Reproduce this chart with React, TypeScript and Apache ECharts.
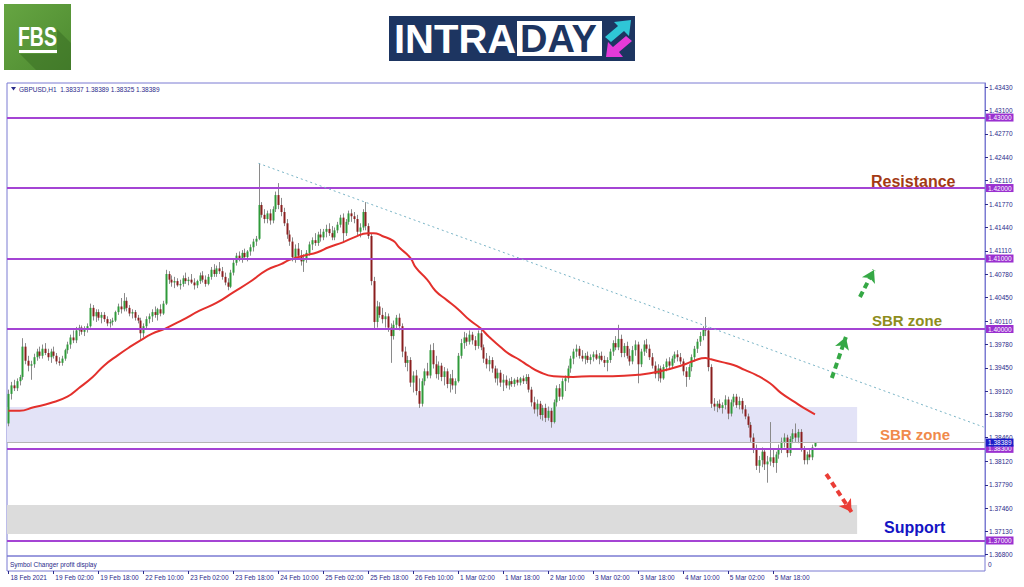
import React, { useEffect, useRef } from "react";
import * as echarts from "echarts";

// ---------- data ----------
const N_SLOTS = 348; // bar slots across the chart (including empty right shift)
const BARS_PER_LABEL = 16;
const timeLabels = [
  "18 Feb 2021", "19 Feb 02:00", "19 Feb 18:00", "22 Feb 10:00", "23 Feb 02:00", "23 Feb 18:00",
  "24 Feb 10:00", "25 Feb 02:00", "25 Feb 18:00", "26 Feb 10:00", "1 Mar 02:00", "1 Mar 18:00",
  "2 Mar 10:00", "3 Mar 02:00", "3 Mar 18:00", "4 Mar 10:00", "5 Mar 02:00", "5 Mar 18:00",
];
const priceTicks = [
  1.368, 1.3713, 1.3746, 1.3779, 1.3812, 1.3846, 1.3879, 1.3912, 1.3945, 1.3978, 1.4011,
  1.4045, 1.4078, 1.4111, 1.4144, 1.4177, 1.4211, 1.4244, 1.4277, 1.431, 1.4343,
];
const levels = [1.43, 1.42, 1.41, 1.4, 1.383, 1.37];
const bidPrice = 1.38389;
const headerText = "GBPUSD,H1  1.38337 1.38389 1.38325 1.38389";

// candles: [open, high, low, close] in price x 10000
const candles: number[][] = [
  [13866,13914,13862,13908],[13908,13925,13900,13920],[13920,13928,13912,13916],[13916,13930,13912,13926],
  [13926,13935,13920,13932],[13932,13987,13928,13975],[13975,13980,13950,13955],[13955,13962,13940,13948],
  [13948,13955,13928,13950],[13950,13965,13945,13960],[13960,13972,13955,13968],[13968,13975,13958,13962],
  [13962,13978,13958,13972],[13972,13980,13963,13966],[13966,13972,13955,13960],[13960,13972,13952,13968],
  [13968,13975,13958,13962],[13962,13966,13950,13954],[13954,13960,13948,13952],[13952,13962,13948,13958],
  [13958,13972,13955,13970],[13970,13982,13965,13978],[13978,13992,13972,13988],[13988,13998,13980,13984],
  [13984,14003,13980,13998],[13998,14006,13990,14002],[14002,14005,13992,13996],[13996,14004,13990,14000],
  [14000,14008,13995,14004],[14004,14036,14002,14030],[14030,14034,14012,14018],[14018,14028,14010,14024],
  [14024,14028,14012,14016],[14016,14024,14008,14020],[14020,14024,14010,14014],[14014,14018,14004,14008],
  [14008,14014,14002,14010],[14010,14016,14005,14012],[14012,14026,14010,14024],[14024,14036,14020,14032],
  [14032,14044,14022,14028],[14028,14051,14025,14040],[14040,14045,14025,14030],[14030,14034,14018,14022],
  [14022,14028,14015,14024],[14024,14027,14012,14016],[14016,14020,14008,14012],[14012,14016,13984,13994],
  [13994,14008,13988,14004],[14004,14018,14000,14014],[14014,14022,14008,14018],[14018,14028,14010,14024],
  [14024,14032,14016,14020],[14020,14030,14012,14028],[14028,14035,14018,14022],[14022,14040,14020,14036],
  [14036,14084,14034,14078],[14078,14082,14064,14070],[14070,14076,14060,14066],[14066,14074,14058,14068],
  [14068,14072,14060,14062],[14062,14070,14056,14064],[14064,14076,14060,14072],[14072,14080,14064,14068],
  [14068,14074,14062,14070],[14070,14078,14064,14066],[14066,14072,14056,14062],[14062,14070,14058,14068],
  [14068,14080,14064,14076],[14076,14082,14066,14070],[14070,14076,14060,14064],[14064,14078,14062,14074],
  [14074,14088,14070,14084],[14084,14092,14074,14078],[14078,14090,14074,14086],[14086,14095,14078,14082],
  [14082,14088,14070,14074],[14074,14080,14062,14066],[14066,14072,14055,14060],[14060,14084,14058,14080],
  [14080,14098,14076,14094],[14094,14108,14090,14104],[14104,14110,14096,14100],[14100,14112,14094,14108],
  [14108,14114,14098,14102],[14102,14112,14096,14110],[14110,14120,14104,14116],[14116,14128,14110,14124],
  [14124,14132,14118,14128],[14128,14235,14126,14176],[14176,14180,14158,14162],[14162,14170,14150,14156],
  [14156,14168,14150,14164],[14164,14170,14148,14154],[14154,14174,14150,14170],[14170,14195,14166,14190],
  [14190,14207,14170,14176],[14176,14186,14160,14166],[14166,14172,14146,14150],[14150,14156,14128,14134],
  [14134,14140,14118,14124],[14124,14130,14096,14102],[14102,14120,14094,14114],[14114,14122,14098,14104],
  [14104,14112,14090,14096],[14096,14106,14081,14100],[14100,14112,14094,14108],[14108,14124,14104,14120],
  [14120,14130,14112,14126],[14126,14136,14118,14122],[14122,14138,14118,14134],[14134,14142,14124,14130],
  [14130,14142,14126,14138],[14138,14148,14130,14142],[14142,14150,14132,14136],[14136,14146,14126,14130],
  [14130,14144,14126,14140],[14140,14152,14136,14148],[14148,14162,14144,14158],[14158,14164,14122,14136],
  [14136,14156,14132,14152],[14152,14168,14148,14164],[14164,14170,14152,14160],[14160,14166,14150,14156],
  [14156,14162,14132,14138],[14138,14150,14130,14144],[14144,14170,14140,14166],[14166,14180,14140,14146],
  [14146,14150,14128,14132],[14132,14136,14062,14068],[14068,14074,14000,14010],[14010,14040,14002,14032],
  [14032,14038,14016,14020],[14020,14030,14008,14014],[14014,14024,14002,14018],[14018,14022,13996,14002],
  [14002,14008,13952,13990],[13990,14012,13985,14006],[14006,14020,14000,14016],[14016,14022,13998,14004],
  [14004,14008,13960,13968],[13968,13975,13946,13952],[13952,13962,13940,13956],[13956,13960,13918,13924],
  [13924,13940,13910,13934],[13934,13942,13906,13912],[13912,13930,13888,13894],[13894,13930,13890,13926],
  [13926,13944,13920,13940],[13940,13952,13930,13934],[13934,13978,13930,13970],[13970,13980,13944,13950],
  [13950,13962,13930,13936],[13936,13954,13928,13948],[13948,13952,13926,13932],[13932,13946,13920,13940],
  [13940,13944,13916,13922],[13922,13936,13910,13930],[13930,13942,13914,13920],[13920,13930,13908,13926],
  [13926,13966,13924,13962],[13962,13986,13958,13980],[13980,13996,13972,13988],[13988,13994,13976,13982],
  [13982,13998,13978,13992],[13992,13996,13978,13984],[13984,13990,13970,13976],[13976,13998,13972,13994],
  [13994,14000,13970,13974],[13974,13978,13952,13958],[13958,13966,13944,13950],[13950,13962,13940,13956],
  [13956,13960,13938,13944],[13944,13948,13924,13930],[13930,13944,13920,13938],[13938,13942,13918,13924],
  [13924,13936,13912,13928],[13928,13934,13916,13920],[13920,13930,13914,13926],[13926,13932,13918,13922],
  [13922,13930,13918,13928],[13928,13932,13920,13924],[13924,13932,13920,13930],[13930,13934,13922,13926],
  [13926,13936,13922,13932],[13932,13936,13910,13914],[13914,13918,13890,13896],[13896,13904,13880,13886],
  [13886,13900,13876,13894],[13894,13898,13872,13878],[13878,13892,13870,13888],[13888,13894,13868,13874],
  [13874,13890,13870,13884],[13884,13888,13860,13868],[13868,13900,13866,13896],[13896,13920,13890,13916],
  [13916,13922,13898,13904],[13904,13930,13900,13926],[13926,13934,13912,13930],[13930,13948,13924,13944],
  [13944,13962,13938,13958],[13958,13972,13950,13968],[13968,13978,13960,13972],[13972,13976,13958,13962],
  [13962,13970,13954,13958],[13958,13966,13950,13962],[13962,13968,13952,13956],[13956,13964,13950,13960],
  [13960,13968,13954,13964],[13964,13970,13956,13958],[13958,13966,13950,13962],[13962,13968,13954,13956],
  [13956,13962,13946,13952],[13952,13960,13940,13956],[13956,13972,13952,13968],[13968,13984,13962,13980],
  [13980,13990,13970,13974],[13974,14006,13970,13986],[13986,13992,13960,13966],[13966,13980,13960,13976],
  [13976,13982,13958,13962],[13962,13972,13948,13954],[13954,13976,13950,13970],[13970,13984,13962,13978],
  [13978,13982,13923,13950],[13950,13972,13946,13968],[13968,13984,13962,13978],[13978,13986,13966,13972],
  [13972,13978,13956,13960],[13960,13966,13944,13948],[13948,13954,13930,13936],[13936,13950,13926,13944],
  [13944,13948,13924,13930],[13930,13950,13928,13946],[13946,13958,13940,13954],[13954,13960,13944,13948],
  [13948,13962,13944,13958],[13958,13968,13952,13964],[13964,13970,13954,13960],[13960,13966,13950,13954],
  [13954,13958,13934,13940],[13940,13946,13918,13932],[13932,13950,13928,13946],[13946,13964,13940,13960],
  [13960,13976,13954,13972],[13972,13986,13966,13982],[13982,13996,13976,13990],[13990,14004,13984,14000],
  [14000,14017,13990,13998],[13998,14002,13940,13946],[13946,13950,13888,13894],[13894,13902,13884,13890],
  [13890,13898,13882,13894],[13894,13900,13886,13888],[13888,13896,13880,13892],[13892,13906,13886,13900],
  [13900,13904,13872,13880],[13880,13900,13876,13896],[13896,13908,13890,13904],[13904,13908,13888,13892],
  [13892,13904,13886,13898],[13898,13902,13880,13886],[13886,13892,13872,13876],[13876,13880,13860,13864],
  [13864,13868,13840,13846],[13846,13852,13824,13830],[13830,13836,13800,13806],[13806,13820,13796,13814],
  [13814,13832,13804,13826],[13826,13830,13800,13808],[13808,13820,13782,13812],[13812,13868,13806,13818],
  [13818,13830,13804,13810],[13810,13826,13796,13822],[13822,13836,13816,13830],[13830,13846,13824,13840],
  [13840,13852,13832,13846],[13846,13850,13818,13824],[13824,13848,13820,13844],[13844,13858,13838,13852],
  [13852,13866,13840,13846],[13846,13858,13838,13854],[13854,13858,13826,13830],[13830,13834,13808,13814],
  [13814,13826,13808,13822],[13822,13830,13814,13818],[13818,13836,13814,13832],[13833.7,13838.9,13832.5,13838.9],
];

// moving average: [bar index, price]
const maSamples: number[][] = [
  [0,1.3884],[4,1.3884],[9,1.3889],[15,1.3895],[21,1.3904],[25,1.3916],[30,1.3932],[34,1.3948],
  [39,1.3963],[43,1.3974],[47,1.3984],[51,1.3993],[56,1.4001],[62,1.4013],[68,1.4026],[74,1.4037],
  [80,1.4052],[86,1.4067],[92,1.4084],[97,1.4092],[100,1.4098],[105,1.4104],[110,1.4109],[114,1.4116],
  [119,1.4123],[123,1.413],[128,1.4136],[130,1.4136],[133,1.4132],[137,1.4125],[139,1.4116],[143,1.4101],
  [145,1.4087],[149,1.407],[152,1.4054],[156,1.4041],[160,1.4028],[164,1.4013],[168,1.4001],[171,1.3989],
  [175,1.3975],[178,1.3965],[182,1.3956],[185,1.3948],[189,1.3939],[194,1.3933],[201,1.3932],[207,1.3933],
  [215,1.3933],[224,1.3935],[232,1.394],[240,1.3949],[244,1.3955],[248,1.3959],[250,1.3957],[254,1.3953],
  [258,1.3949],[262,1.3942],[266,1.3935],[271,1.3923],[275,1.3909],[280,1.3896],[283,1.3888],[287,1.3879],
];

// zones: [end bar, top price, bottom price]
const zones: number[][] = [
  [302, 1.38894, 1.38383],
  [302, 1.37504, 1.37092],
];
const zoneColors = ["#e3e3f7", "#dcdcdc"];

// trend line from the 23 Feb high
const trendLine = { from: [89, 1.4235], to: [347, 1.3861] };

// dashed arrows: [startBar, startPrice, endBar, endPrice]
const arrowsGreen: number[][] = [
  [293, 1.39305, 298, 1.39887],
  [303, 1.40454, 308, 1.40837],
];
const arrowRed: number[] = [291, 1.37943, 300, 1.37404];

const annotations = [
  { text: "Resistance", x: 871, y: 181, color: "#a33a14", size: 16 },
  { text: "SBR zone", x: 872, y: 320, color: "#8d8d1c", size: 15 },
  { text: "SBR zone", x: 880, y: 434, color: "#f08a4b", size: 15 },
  { text: "Support", x: 884, y: 527, color: "#1414c4", size: 16 },
];

// ---------- chart ----------
const FRAME = "#7b7bd2";
const NAVY = "#2a2a8a";
const FONT = "Liberation Sans, Arial, sans-serif";

function buildOption() {
  const slots = Array.from({ length: N_SLOTS }, (_, i) => String(i));
  const candleData = candles.map((d, i) => [i, d[0] / 1e4, d[1] / 1e4, d[2] / 1e4, d[3] / 1e4]);
  const arrowItem = (a: number[], color: string) => [
    { coord: [a[0], a[1]], symbol: "none", lineStyle: { color, width: 4, type: [6, 4] } },
    { coord: [a[2], a[3]], symbol: "arrow", symbolSize: [11, 12] },
  ];

  return {
    animation: false,
    textStyle: { fontFamily: FONT },
    grid: [
      { left: 7, right: 39, top: 83, bottom: 31, show: true, borderColor: FRAME, borderWidth: 1 },
      { left: 7, right: 39, top: 556, height: 15, show: true, borderColor: FRAME, borderWidth: 1 },
    ],
    xAxis: [
      {
        type: "category", gridIndex: 0, data: slots, boundaryGap: true,
        axisLine: { show: false }, axisTick: { show: false }, axisLabel: { show: false }, splitLine: { show: false },
      },
      {
        type: "category", gridIndex: 1, data: slots, boundaryGap: true, position: "bottom",
        axisLine: { show: false },
        axisTick: {
          show: true, alignWithLabel: true, length: 3, lineStyle: { color: NAVY, width: 1 },
          interval: (i: number) => i % BARS_PER_LABEL === 0 && i / BARS_PER_LABEL < timeLabels.length,
        },
        axisLabel: {
          show: true, align: "left", margin: 3, fontSize: 6.5, color: NAVY, padding: [0, 0, 0, 2],
          interval: (i: number) => i % BARS_PER_LABEL === 0 && i / BARS_PER_LABEL < timeLabels.length,
          formatter: (_v: string, i: number) => timeLabels[Math.round(i / BARS_PER_LABEL)] || "",
        },
        splitLine: { show: false },
      },
    ],
    yAxis: [
      {
        type: "value", gridIndex: 0, position: "right", min: 1.3678, max: 1.4349,
        splitLine: { show: false },
        axisLine: { show: true, lineStyle: { color: FRAME } },
        axisTick: { show: true, length: 3, customValues: priceTicks, lineStyle: { color: NAVY } },
        axisLabel: {
          show: true, customValues: priceTicks, fontSize: 6.5, color: NAVY, margin: 4,
          formatter: (v: number) => v.toFixed(5),
        },
      },
      {
        type: "value", gridIndex: 1, min: 0, max: 1, show: false,
      },
    ],
    series: [
      {
        name: "zones", type: "custom", xAxisIndex: 0, yAxisIndex: 0, z: 1, silent: true,
        data: zones.map((z, i) => [z[0], z[1], z[2], i]),
        encode: { x: 0, y: [1, 2] },
        renderItem: (params: any, api: any) => {
          const cs = params.coordSys;
          const p1 = api.coord([api.value(0), api.value(1)]);
          const p2 = api.coord([api.value(0), api.value(2)]);
          return {
            type: "rect",
            shape: { x: cs.x, y: p1[1], width: p1[0] - cs.x, height: p2[1] - p1[1] },
            style: { fill: zoneColors[api.value(3)] },
          };
        },
      },
      {
        name: "GBPUSD", type: "custom", xAxisIndex: 0, yAxisIndex: 0, z: 3, silent: true,
        data: candleData,
        encode: { x: 0, y: [1, 2, 3, 4] },
        renderItem: (_params: any, api: any) => {
          const i = api.value(0);
          const o = api.value(1), h = api.value(2), l = api.value(3), c = api.value(4);
          const pO = api.coord([i, o]);
          const pC = api.coord([i, c]);
          const pH = api.coord([i, h]);
          const pL = api.coord([i, l]);
          const x = Math.round(pO[0]) + 0.5;
          const top = Math.min(pO[1], pC[1]);
          const bot = Math.max(pO[1], pC[1]);
          const bull = c >= o;
          return {
            type: "group",
            children: [
              { type: "line", shape: { x1: x, y1: pH[1], x2: x, y2: pL[1] }, style: { stroke: "#8a8a8a", lineWidth: 1 } },
              {
                type: "rect",
                shape: { x: x - 1, y: top, width: 2, height: Math.max(bot - top, 1) },
                style: { fill: bull ? "#2f9a3a" : "#8a1e1e" },
              },
            ],
          };
        },
      },
      {
        name: "MA", type: "line", xAxisIndex: 0, yAxisIndex: 0, z: 4, silent: true,
        data: maSamples, smooth: true, showSymbol: false,
        lineStyle: { color: "#e3302c", width: 2 },
      },
      {
        name: "levels", type: "line", xAxisIndex: 0, yAxisIndex: 0, z: 5, data: [],
        markLine: {
          silent: true, symbol: ["none", "none"], precision: 5, animation: false,
          lineStyle: { color: "#a444d4", width: 2, type: "solid" },
          label: {
            show: true, position: "end", distance: 1, fontSize: 6.5, color: "#fff",
            backgroundColor: "#9a30d0", padding: [1, 2, 0, 2],
            formatter: (p: any) => Number(p.value).toFixed(5),
          },
          data: levels.map((v) => ({ yAxis: v })),
        },
      },
      {
        name: "bid", type: "line", xAxisIndex: 0, yAxisIndex: 0, z: 6, data: [],
        markLine: {
          silent: true, symbol: ["none", "none"], precision: 5, animation: false,
          lineStyle: { color: "#b4b4b4", width: 1, type: "solid" },
          label: {
            show: true, position: "end", distance: 1, fontSize: 6.5, color: "#fff",
            backgroundColor: "#1c1cc8", padding: [1, 2, 0, 2],
            formatter: (p: any) => Number(p.value).toFixed(5),
          },
          data: [{ yAxis: bidPrice }],
        },
      },
      {
        name: "trend", type: "line", xAxisIndex: 0, yAxisIndex: 0, z: 5, data: [],
        markLine: {
          silent: true, symbol: ["none", "none"], animation: false,
          label: { show: false },
          lineStyle: { color: "#79b4c6", width: 1, type: [2, 3] },
          data: [[{ coord: trendLine.from }, { coord: trendLine.to }]],
        },
      },
      {
        name: "arrows", type: "line", xAxisIndex: 0, yAxisIndex: 0, z: 7, data: [],
        markLine: {
          silent: true, animation: false, label: { show: false },
          data: [
            ...arrowsGreen.map((a) => arrowItem(a, "#35a845")),
            arrowItem(arrowRed, "#ea3d36"),
          ],
        },
      },
    ],
    graphic: [
      // FBS logo
      {
        type: "rect", shape: { x: 4, y: 4, width: 67, height: 66 },
        style: {
          fill: {
            type: "linear", x: 0, y: 0, x2: 1, y2: 1,
            colorStops: [{ offset: 0, color: "#66a542" }, { offset: 1, color: "#4d8a30" }],
          },
        },
      },
      {
        type: "polygon", shape: { points: [[20, 54], [57, 54], [57, 29], [71, 43], [71, 70], [36, 70]] },
        style: { fill: "#3b6f24", opacity: 0.55 },
      },
      {
        type: "text", x: 18, y: 37, scaleX: 0.72,
        style: { text: "FBS", fill: "#ffffff", font: "bold 27px Liberation Sans, Arial", textVerticalAlign: "middle" },
      },
      { type: "rect", shape: { x: 19, y: 50, width: 38, height: 3 }, style: { fill: "#ffffff" } },
      // INTRADAY logo
      { type: "rect", shape: { x: 389, y: 16, width: 246, height: 45 }, style: { fill: "#1d3561" } },
      {
        type: "text", x: 394, y: 39,
        style: { text: "INTRA", fill: "#ffffff", font: "bold 40px Liberation Sans, Arial", textVerticalAlign: "middle" },
      },
      { type: "rect", shape: { x: 517, y: 21, width: 85, height: 35 }, style: { fill: "#ffffff" } },
      {
        type: "text", x: 520, y: 39,
        style: { text: "DAY", fill: "#1d3561", font: "bold 38px Liberation Sans, Arial", textVerticalAlign: "middle" },
      },
      {
        type: "polygon",
        shape: { points: [[631, 20], [629, 36], [624, 31], [611, 42], [605, 37], [618, 26], [614, 22]] },
        style: { fill: "#2fc6d6" },
      },
      {
        type: "polygon",
        shape: { points: [[606, 57], [608, 42], [613, 47], [626, 36], [632, 41], [619, 52], [623, 57]] },
        style: { fill: "#e53ad8" },
      },
      // header
      { type: "polygon", shape: { points: [[11, 87], [16, 87], [13.5, 90.5]] }, style: { fill: NAVY } },
      {
        type: "text", x: 19, y: 89,
        style: { text: headerText, fill: NAVY, font: "6.5px Liberation Sans, Arial", textVerticalAlign: "middle" },
      },
      // bottom pane text
      {
        type: "text", x: 10, y: 564,
        style: { text: "Symbol Changer profit display", fill: NAVY, font: "6.5px Liberation Sans, Arial", textVerticalAlign: "middle" },
      },
      {
        type: "text", x: 988, y: 564,
        style: { text: "0", fill: NAVY, font: "6.5px Liberation Sans, Arial", textVerticalAlign: "middle" },
      },
      // annotations
      ...annotations.map((a) => ({
        type: "text", x: a.x, y: a.y, z: 10,
        style: {
          text: a.text, fill: a.color, font: `bold ${a.size}px Liberation Sans, Arial`, textVerticalAlign: "middle",
        },
      })),
    ],
  };
}

export default function App() {
  const ref = useRef<HTMLDivElement>(null);
  useEffect(() => {
    if (!ref.current) return;
    const chart = echarts.init(ref.current, null, { renderer: "svg" });
    chart.setOption(buildOption() as any);
    return () => chart.dispose();
  }, []);
  return (
    <div
      ref={ref}
      style={{ position: "fixed", left: 0, top: 0, width: 1024, height: 587, background: "#ffffff" }}
    />
  );
}
